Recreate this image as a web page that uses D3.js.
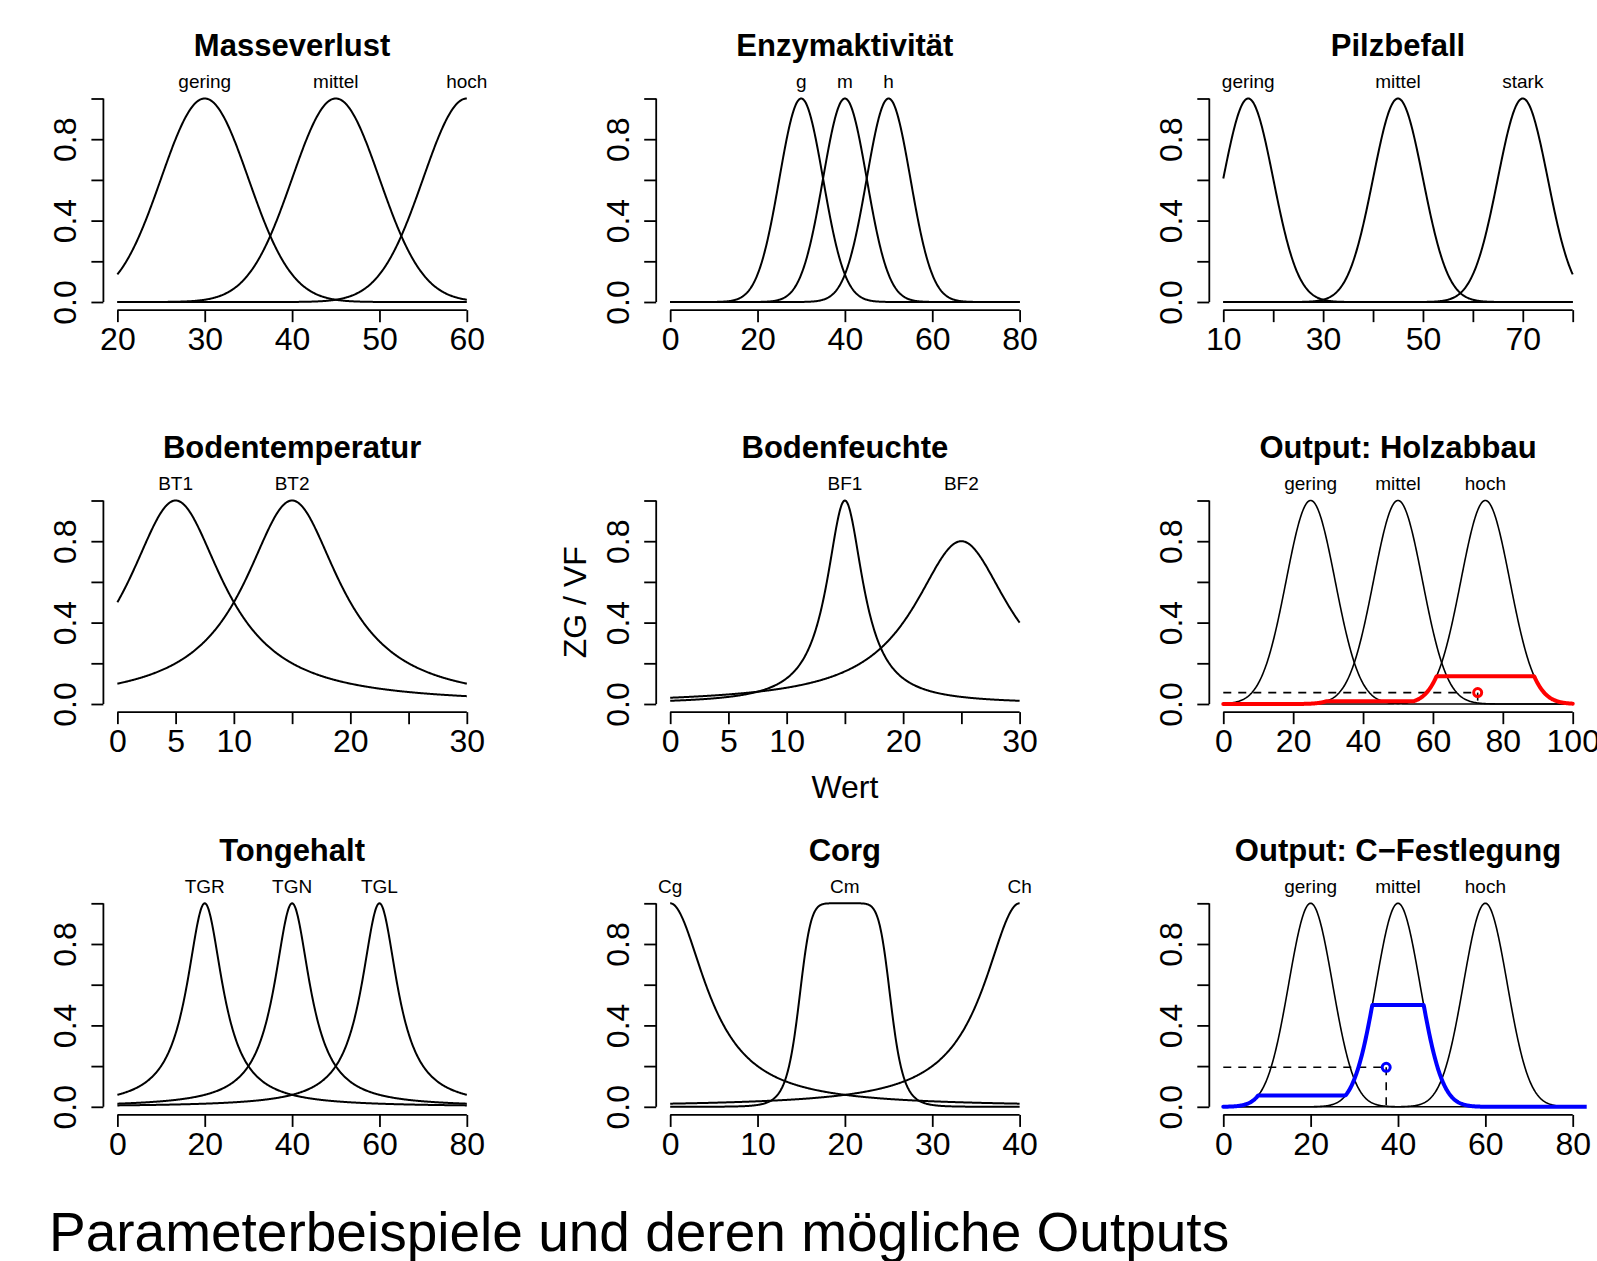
<!DOCTYPE html>
<html>
<head>
<meta charset="utf-8">
<script src="https://cdn.jsdelivr.net/npm/d3@7"></script>
<style>
  body { margin: 0; background: #fff; }
  svg { display: block; }
  text { font-family: "Liberation Sans", Arial, Helvetica, sans-serif; }
</style>
</head>
<body>
<div id="chart"></div>
<script>
// --- Daten ---
const panelTitles = ["Masseverlust", "Enzymaktivität", "Pilzbefall",
  "Bodentemperatur", "Bodenfeuchte", "Output: Holzabbau",
  "Tongehalt", "Corg", "Output: C\u2212Festlegung"];

const xLimits = [[20, 60], [0, 80], [10, 80], [0, 30], [0, 30], [0, 100], [0, 80], [0, 40], [0, 80]];

const xTicks = [
  [20, 30, 40, 50, 60], [0, 20, 40, 60, 80], [10, 20, 30, 40, 50, 60, 70, 80],
  [0, 5, 10, 15, 20, 25, 30], [0, 5, 10, 15, 20, 25, 30], [0, 20, 40, 60, 80, 100],
  [0, 20, 40, 60, 80], [0, 10, 20, 30, 40], [0, 20, 40, 60, 80]];

// R blendet überlappende Beschriftungen aus
const xTickLabels = [
  [20, 30, 40, 50, 60], [0, 20, 40, 60, 80], [10, 30, 50, 70],
  [0, 5, 10, 20, 30], [0, 5, 10, 20, 30], [0, 20, 40, 60, 80, 100],
  [0, 20, 40, 60, 80], [0, 10, 20, 30, 40], [0, 20, 40, 60, 80]];

const yTicks = [0, 0.2, 0.4, 0.6, 0.8, 1.0];
const yTickLabels = [0, 0.4, 0.8];

// Zugehörigkeitsfunktionen: Name, Zentrum, Breite, Steigung (0 = Gauss), Höhe
const setNames = [["gering", "mittel", "hoch"], ["g", "m", "h"], ["gering", "mittel", "stark"],
  ["BT1", "BT2"], ["BF1", "BF2"], ["gering", "mittel", "hoch"],
  ["TGR", "TGN", "TGL"], ["Cg", "Cm", "Ch"], ["gering", "mittel", "hoch"]];
const setCenters = [[30, 45, 60], [30, 40, 50], [15, 45, 70],
  [5, 15], [15, 25], [25, 50, 75],
  [20, 40, 60], [0, 20, 40], [20, 40, 60]];
const setWidths = [[5, 5, 5], [5, 5, 5], [5, 5, 5],
  [5, 5], [1.9, 5], [7, 7, 7],
  [5, 5, 5], [5, 5.3, 5], [5, 5, 5]];
const setSlopes = [[0, 0, 0], [0, 0, 0], [0, 0, 0],
  [1, 1], [1, 1], [0, 0, 0],
  [1, 1, 1], [1, 3.7, 1], [0, 0, 0]];
const setHeights = [[1, 1, 1], [1, 1, 1], [1, 1, 1],
  [1, 1], [1, 0.8], [1, 1, 1],
  [1, 1, 1], [1, 1, 1], [1, 1, 1]];

// Ausgaben: Kappungsniveaus je Menge und defuzzifiziertes Ergebnis
const holzClip = [0, 0.013, 0.136];
const holzResult = [72.8, 0.056];
const cfestClip = [0.056, 0.5, 0];
const cfestResult = [37.3, 0.194];

const outputs = {
  5: { clip: holzClip, result: holzResult, color: "#ff0000" },
  8: { clip: cfestClip, result: cfestResult, color: "#0000ff" }
};

const caption = "Parameterbeispiele und deren mögliche Outputs";

// --- Layout ---
const W = 1597, H = 1261;
const colLeft = [103.4, 656.2, 1209.3];
const colWidth = 377.4;
const rowOne = [98.5, 500.5, 903.3];   // Pixel für y = 1
const unitH = 203.5;                    // Pixel für y-Spanne 0..1

const svg = d3.select("#chart").append("svg")
  .attr("width", W).attr("height", H)
  .attr("viewBox", `0 0 ${W} ${H}`)
  .style("background-color", "#ffffff");

function mf(x, c, a, b, h) {
  if (b === 0) return h * Math.exp(-((x - c) * (x - c)) / (2 * a * a));
  return h / (1 + Math.pow(Math.abs((x - c) / a), 2 * b));
}

function sample(lo, hi, n) {
  return d3.range(n + 1).map(i => lo + (hi - lo) * i / n);
}

panelTitles.forEach(function (title, i) {
  const col = i % 3, row = Math.floor(i / 3);
  const [lo, hi] = xLimits[i];
  const pad = 0.04 * (hi - lo);
  const left = colLeft[col], right = left + colWidth;
  const top = rowOne[row] - 0.04 * unitH;
  const bottom = rowOne[row] + 1.04 * unitH;

  const x = d3.scaleLinear().domain([lo - pad, hi + pad]).range([left, right]);
  const y = d3.scaleLinear().domain([-0.04, 1.04]).range([bottom, top]);

  const g = svg.append("g");
  const clipId = "clip" + i;
  g.append("clipPath").attr("id", clipId).append("rect")
    .attr("x", left).attr("y", top).attr("width", right - left).attr("height", bottom - top);

  // Titel
  g.append("text").attr("x", (left + right) / 2).attr("y", top - 34.5)
    .attr("text-anchor", "middle").attr("font-size", 31).attr("font-weight", "bold")
    .text(title);

  // x-Achse
  const xAxis = d3.axisBottom(x).tickValues(xTicks[i]).tickSize(12).tickPadding(0)
    .tickFormat(d => xTickLabels[i].includes(d) ? String(d) : "");
  const gx = g.append("g").attr("transform", `translate(0,${bottom})`).call(xAxis);
  gx.select(".domain").remove();
  gx.append("line")
    .attr("x1", x(xTicks[i][0])).attr("x2", x(xTicks[i][xTicks[i].length - 1]))
    .attr("stroke", "#000").attr("stroke-width", 1.8);
  gx.selectAll(".tick line").attr("stroke", "#000").attr("stroke-width", 1.8);
  gx.selectAll(".tick text").attr("y", 40).attr("dy", 0)
    .attr("font-size", 32).attr("fill", "#000")
    .attr("font-family", "'Liberation Sans', Arial, sans-serif");

  // y-Achse
  const yAxis = d3.axisLeft(y).tickValues(yTicks).tickSize(12)
    .tickFormat(d => yTickLabels.includes(d) ? d.toFixed(1) : "");
  const gy = g.append("g").attr("transform", `translate(${left},0)`).call(yAxis);
  gy.select(".domain").remove();
  gy.append("line").attr("y1", y(0)).attr("y2", y(1))
    .attr("stroke", "#000").attr("stroke-width", 1.8);
  gy.selectAll(".tick line").attr("stroke", "#000").attr("stroke-width", 1.8);
  gy.selectAll(".tick text").attr("x", 0).attr("dy", 0)
    .attr("transform", "translate(-27,0) rotate(-90)")
    .attr("text-anchor", "middle").attr("font-size", 32).attr("fill", "#000")
    .attr("font-family", "'Liberation Sans', Arial, sans-serif");

  // Zugehörigkeitsfunktionen
  const xs = sample(lo, hi, 600);
  const line = d3.line().x(d => x(d[0])).y(d => y(d[1]));
  const isOut = outputs[i] !== undefined;
  setNames[i].forEach(function (name, k) {
    const c = setCenters[i][k], a = setWidths[i][k], b = setSlopes[i][k], h = setHeights[i][k];
    g.append("path")
      .datum(xs.map(v => [v, mf(v, c, a, b, h)]))
      .attr("d", line).attr("fill", "none")
      .attr("stroke", "#000").attr("stroke-width", isOut ? 1.6 : 2);
    g.append("text").attr("x", x(c)).attr("y", top - 2)
      .attr("text-anchor", "middle").attr("font-size", 19)
      .text(name);
  });

  // Aggregierte Ausgabe
  if (isOut) {
    const o = outputs[i];
    const [rx, ry] = o.result;
    g.append("line").attr("x1", x(lo)).attr("x2", x(rx)).attr("y1", y(ry)).attr("y2", y(ry))
      .attr("stroke", "#000").attr("stroke-width", 1.6).attr("stroke-dasharray", "8,7");
    g.append("line").attr("x1", x(rx)).attr("x2", x(rx)).attr("y1", y(ry)).attr("y2", y(0))
      .attr("stroke", "#000").attr("stroke-width", 1.6).attr("stroke-dasharray", "8,7");
    const agg = sample(0, 100, 800).map(function (v) {
      const m = d3.max(setNames[i], (nm, k) =>
        Math.min(o.clip[k], mf(v, setCenters[i][k], setWidths[i][k], setSlopes[i][k], setHeights[i][k])));
      return [v, m];
    });
    g.append("path").datum(agg).attr("d", line).attr("fill", "none")
      .attr("clip-path", `url(#${clipId})`)
      .attr("stroke", o.color).attr("stroke-width", 4)
      .attr("stroke-linejoin", "round").attr("stroke-linecap", "round");
    g.append("circle").attr("cx", x(rx)).attr("cy", y(ry)).attr("r", 4)
      .attr("fill", "none").attr("stroke", o.color).attr("stroke-width", 3);
  }

  // Achsenbeschriftungen nur im mittleren Feld
  if (i === 4) {
    g.append("text").attr("x", (left + right) / 2).attr("y", 798)
      .attr("text-anchor", "middle").attr("font-size", 32).text("Wert");
    g.append("text").attr("transform", `translate(586,${y(0.5)}) rotate(-90)`)
      .attr("text-anchor", "middle").attr("font-size", 32).text("ZG / VF");
  }
});

svg.append("text").attr("x", 49).attr("y", 1251)
  .attr("font-size", 55).text(caption);
</script>
</body>
</html>
